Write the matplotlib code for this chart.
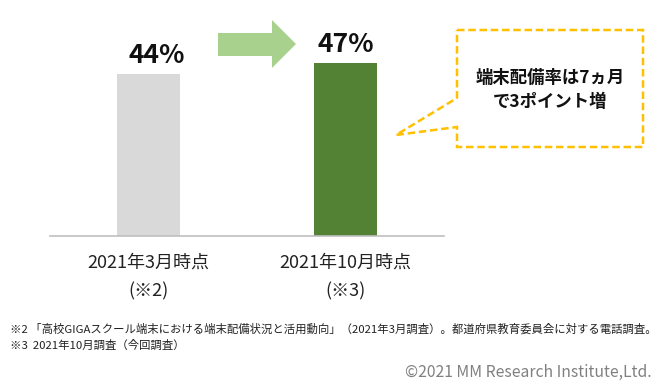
import matplotlib
matplotlib.use("Agg")
import matplotlib.pyplot as plt
from matplotlib.patches import Polygon

plt.rcParams['font.family'] = ['Noto Sans CJK JP', 'DejaVu Sans']

# data
categories = ['2021年3月時点\n(※2)', '2021年10月時点\n(※3)']
values = [44, 47]
value_labels = ['44%', '47%']
bar_colors = ['#d9d9d9', '#548235']
callout_text = '端末配備率は7ヵ月\nで3ポイント増'
footnotes = ['※2 「高校GIGAスクール端末における端末配備状況と活用動向」（2021年3月調査）。都道府県教育委員会に対する電話調査。',
             '※3  2021年10月調査（今回調査）']
copyright_text = '©2021 MM Research Institute,Ltd.'

W, H = 665, 390
fig = plt.figure(figsize=(W / 100, H / 100), dpi=100)

def px(x, y):
    # pixel position -> figure fraction
    return (x / W, 1 - y / H)

ax = fig.add_axes([50 / W, 1 - 236 / H, 394 / W, 236 / H])
xs = range(len(values))
ax.bar(xs, values, width=0.315, color=bar_colors)
ax.set_xlim(-0.5, 1.5)
ax.set_ylim(0, 64)
for x, v, lab in zip(xs, values, value_labels):
    ax.text(x + (0.04 if x == 0 else 0), v + 1.4, lab, ha='center', va='bottom',
            fontsize=19, fontweight='bold', color='#111111')

for s in ['top', 'right', 'left']:
    ax.spines[s].set_visible(False)
ax.spines['bottom'].set_color('#bfbfbf')
ax.spines['bottom'].set_linewidth(1.2)
ax.set_yticks([])
ax.set_xticks(list(xs))
ax.set_xticklabels(categories, fontsize=13, color='#222222', linespacing=1.75)
ax.tick_params(axis='x', length=0, pad=13)

# arrow between bars
arrow_pts = [(218, 33), (272, 33), (272, 20), (296, 44), (272, 68), (272, 56), (218, 56)]
fig.patches.append(Polygon([px(*p) for p in arrow_pts], closed=True,
                           transform=fig.transFigure, facecolor='#a9d18e', edgecolor='none'))

# dashed callout
call_pts = [(457, 30), (643, 30), (643, 147), (457, 147), (457, 127), (396, 135), (457, 98)]
fig.patches.append(Polygon([px(*p) for p in call_pts], closed=True,
                           transform=fig.transFigure, facecolor='white', edgecolor='#ffc000',
                           linewidth=1.8, linestyle=(0, (3, 1.5))))
fig.text(*px(550, 90), callout_text, ha='center', va='center', fontsize=12.5,
         fontweight='bold', color='#111111', linespacing=1.45)

fig.text(*px(10, 329), footnotes[0], ha='left', va='center', fontsize=8.2, color='#222222')
fig.text(*px(10, 345), footnotes[1], ha='left', va='center', fontsize=8.2, color='#222222')
fig.text(*px(652, 372), copyright_text, ha='right', va='center', fontsize=11.3, color='#808080')

fig.savefig('out.png', dpi=100)
